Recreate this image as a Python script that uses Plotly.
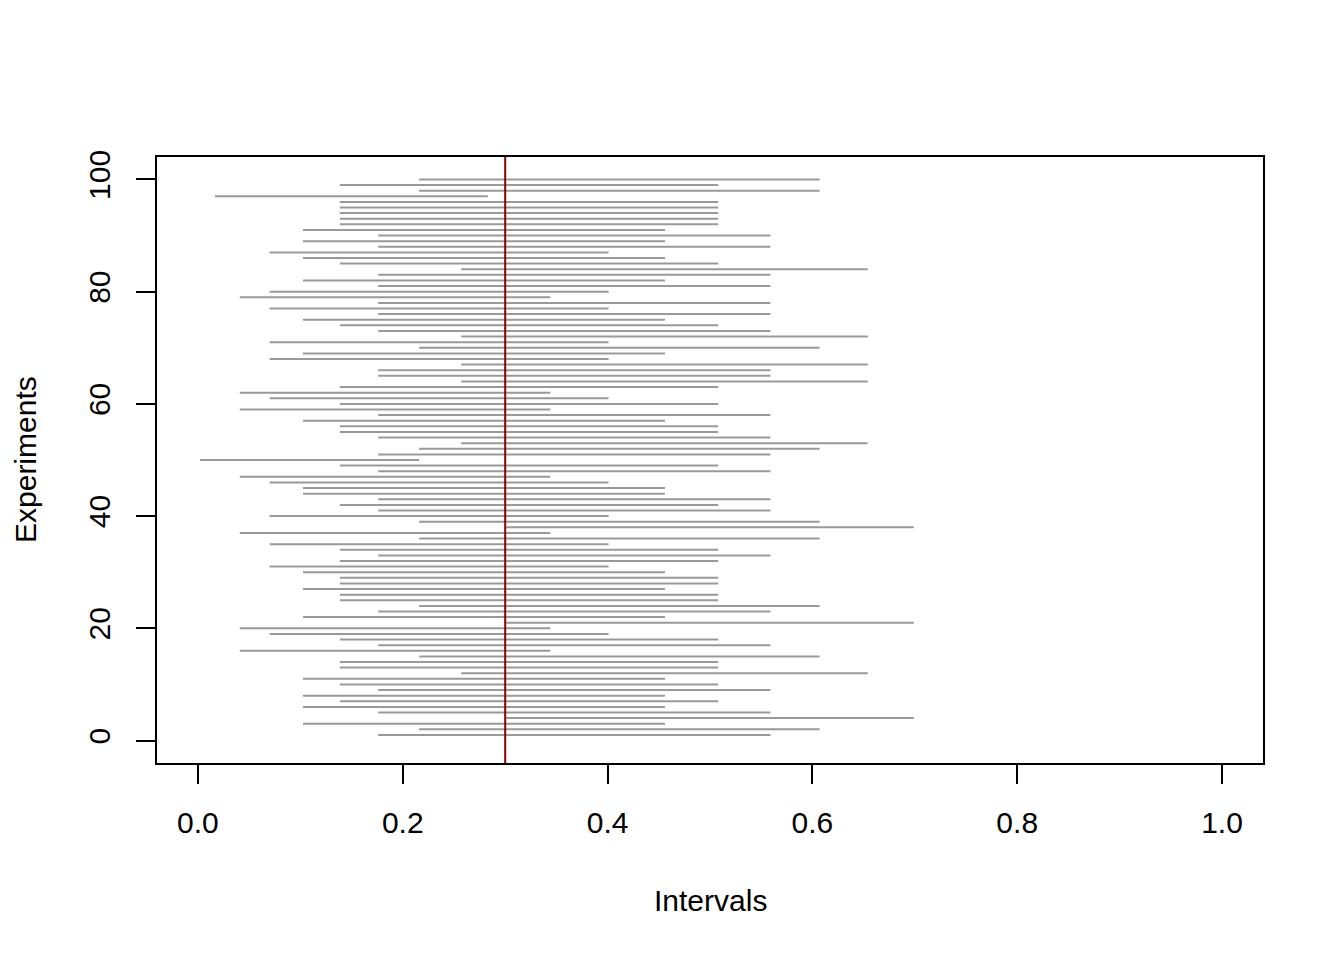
import plotly.graph_objects as go

# Interval endpoint levels
lower_levels = [0.002, 0.0166, 0.0408, 0.070, 0.1026, 0.1385, 0.176, 0.216, 0.257, 0.301]
upper_levels = [0.216, 0.283, 0.344, 0.401, 0.456, 0.508, 0.559, 0.607, 0.654, 0.699]

# Which interval level each experiment (1..100) has
experiments = list(range(1, 101))
level_index = [6, 7, 4, 9, 6, 4, 5, 4, 6, 5,
               4, 8, 5, 5, 7, 2, 6, 5, 3, 2,
               9, 4, 6, 7, 5, 5, 4, 5, 5, 4,
               3, 5, 6, 5, 3, 7, 2, 9, 7, 3,
               6, 5, 6, 4, 4, 3, 2, 6, 5, 0,
               6, 7, 8, 6, 5, 5, 4, 6, 2, 5,
               3, 2, 5, 8, 6, 6, 8, 3, 4, 7,
               3, 8, 6, 5, 4, 6, 3, 6, 2, 3,
               6, 4, 6, 8, 5, 4, 3, 6, 4, 6,
               4, 5, 5, 5, 5, 5, 1, 7, 5, 7]

lower = [lower_levels[k] for k in level_index]
upper = [upper_levels[k] for k in level_index]

true_p = 0.3

x_ticks = [0.0, 0.2, 0.4, 0.6, 0.8, 1.0]
x_tick_labels = ["0.0", "0.2", "0.4", "0.6", "0.8", "1.0"]
y_ticks = [0, 20, 40, 60, 80, 100]
y_tick_labels = ["0", "20", "40", "60", "80", "100"]

xs, ys = [], []
for e, lo, hi in zip(experiments, lower, upper):
    xs += [lo, hi, None]
    ys += [e, e, None]

fig = go.Figure()
fig.add_trace(go.Scatter(x=xs, y=ys, mode="lines",
                         line=dict(color="#999999", width=2),
                         hoverinfo="skip", showlegend=False))

fig.add_shape(type="line", xref="x", yref="paper", x0=true_p, x1=true_p,
              y0=0, y1=1, line=dict(color="#8B0000", width=2), layer="above")

font = dict(family="Liberation Sans, Arial, Helvetica, sans-serif", size=30, color="black")

fig.update_layout(
    width=1344, height=960,
    margin=dict(l=149, r=89, t=149, b=205),
    paper_bgcolor="white", plot_bgcolor="white",
    font=font,
    showlegend=False,
    xaxis=dict(range=[-0.04, 1.04], tickmode="array", tickvals=x_ticks,
               ticktext=x_tick_labels, ticks="outside", ticklen=19, tickwidth=2,
               tickcolor="black", showline=True, linecolor="black", linewidth=2,
               mirror=True, showgrid=False, zeroline=False,
               ticklabelstandoff=13, tickfont=font),
    yaxis=dict(range=[-4, 104], tickmode="array", tickvals=y_ticks,
               ticktext=y_tick_labels, ticks="outside", ticklen=19, tickwidth=2,
               tickcolor="black", showline=True, linecolor="black", linewidth=2,
               mirror=True, showgrid=False, zeroline=False, tickangle=-90,
               ticklabelstandoff=14, tickfont=font),
    annotations=[
        dict(text="Intervals", xref="paper", yref="paper", x=0.5, y=0,
             xanchor="center", yanchor="middle", yshift=-137, showarrow=False,
             font=font),
        dict(text="Experiments", xref="paper", yref="paper", x=0, y=0.5,
             xanchor="center", yanchor="middle", xshift=-132, textangle=-90,
             showarrow=False, font=font),
    ],
)

fig.write_html("out.html")
